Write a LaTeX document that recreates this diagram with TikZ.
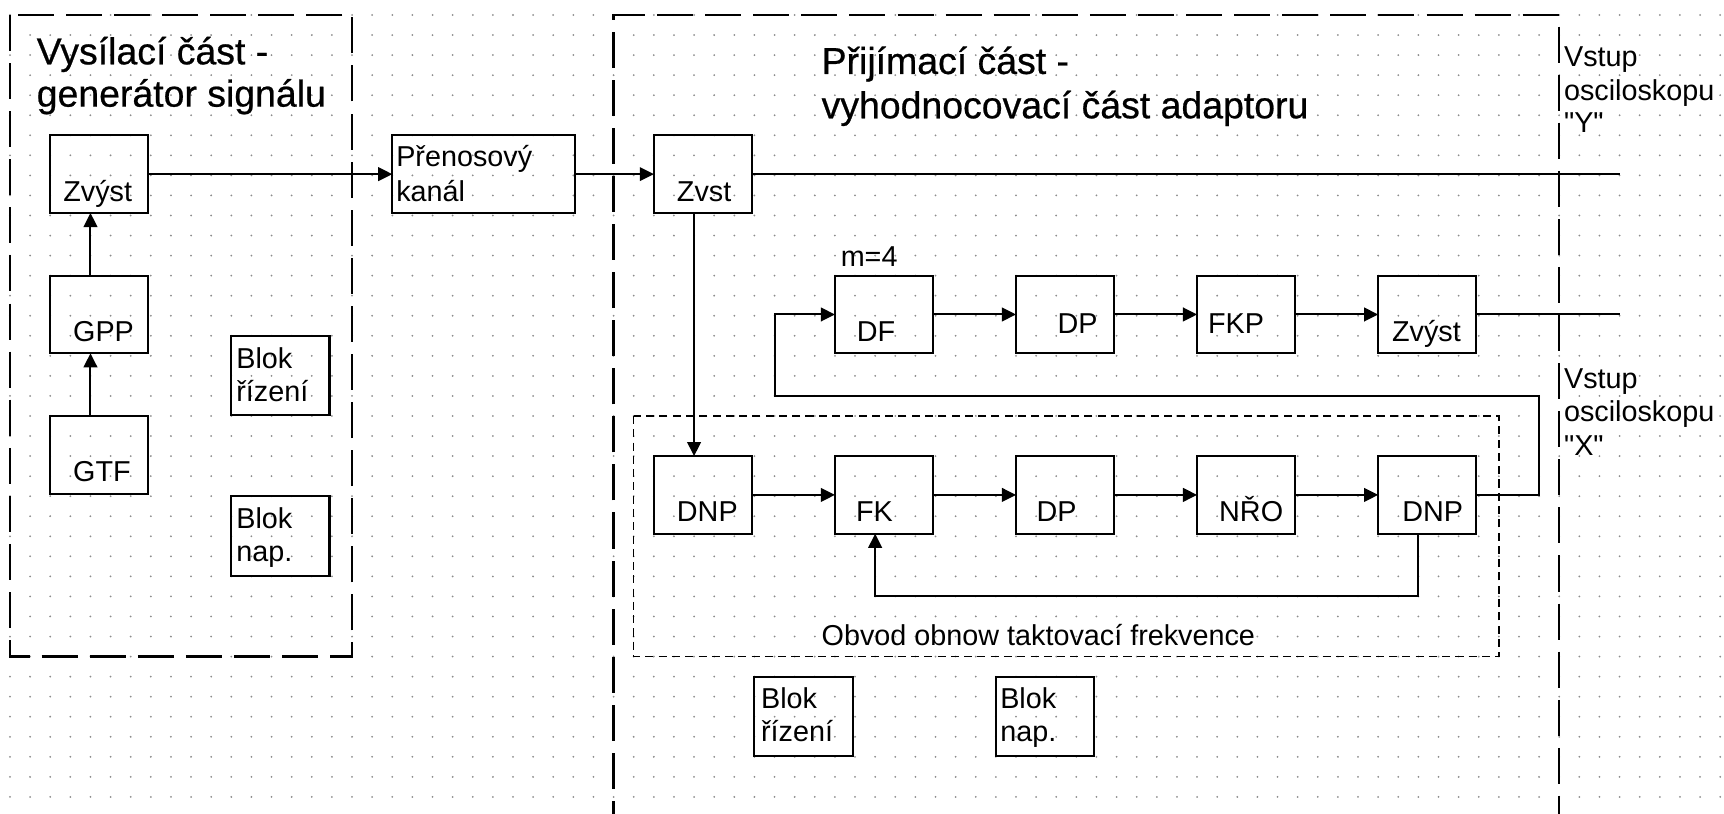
\documentclass[tikz,border=0pt]{standalone}
\usepackage{fontspec}
\setmainfont{Liberation Sans}
\newfontfamily\dgm{Liberation Sans}
\newfontfamily\dgmhead[FakeBold=0.6]{Liberation Sans}
\usetikzlibrary{arrows.meta}

\begin{document}
\begin{tikzpicture}[x=10pt, y=-9.965pt,
  blk/.style={draw, line width=1pt, rectangle, minimum width=48.8pt,
    minimum height=38.6pt, inner sep=0pt, outer sep=0pt, anchor=north west},
  ctrlblk/.style={blk, minimum height=39.6pt},
  lbl/.style={anchor=base west, inner sep=0pt, font=\dgm\fontsize{14.3pt}{16pt}\selectfont},
  ttl/.style={anchor=base west, inner sep=0pt, font=\dgmhead\fontsize{18.6pt}{22pt}\selectfont},
  wire/.style={line width=1pt},
  arr/.style={wire, -{Triangle[length=7pt,width=6.8pt]}},
  outer/.style={line width=1.1pt, dash pattern=on 17.9pt off 6pt},
  inner/.style={line width=0.75pt, dash pattern=on 4pt off 2.6pt},
  griddot/.style={fill=black!45}
]
\useasboundingbox (-0.497,-0.748) rectangle (85.19,39.85);
\clip (-0.497,-0.748) rectangle (85.19,39.85);

% dotted drawing grid
\foreach \i in {0,...,85}{
  \foreach \j in {0,...,39}{
    \fill[griddot] (\i,\j) circle[radius=0.5pt];
  }
}

% section frames
\draw[outer] (0,0) rectangle (17,32);
\draw[outer] (30,41) -- (30,0) -- (77,0) -- (77,41);
\draw[inner] (31,20) rectangle (74,32);

% section titles
\node[ttl] (t1a) at (1.31,2.46) {Vysílací část -};
\node[ttl] (t1b) at (1.31,4.57) {generátor signálu};
\node[ttl] (t2a) at (40.32,2.94) {Přijímací část -};
\node[ttl] (t2b) at (40.32,5.15) {vyhodnocovací část adaptoru};

% transmitter blocks
\node[blk] (zvA) at (2,6) {};
\node[lbl] (zvAt) at (2.63,9.31) {Zvýst};
\node[blk] (gpp) at (2,13) {};
\node[lbl] (gppt) at (3.12,16.29) {GPP};
\node[blk] (gtf) at (2,20) {};
\node[lbl] (gtft) at (3.12,23.28) {GTF};
\node[ctrlblk] (rizA) at (11,16) {};
\node[lbl] (rizAt1) at (11.23,17.62) {Blok};
\node[lbl] (rizAt2) at (11.23,19.29) {řízení};
\node[ctrlblk] (napA) at (11,24) {};
\node[lbl] (napAt1) at (11.23,25.6) {Blok};
\node[lbl] (napAt2) at (11.23,27.27) {nap.};

% channel
\node[blk, minimum width=90.8pt] (kanal) at (19,6) {};
\node[lbl] (kanalt1) at (19.18,7.57) {Přenosový};
\node[lbl] (kanalt2) at (19.18,9.31) {kanál};

% receiver blocks
\node[blk] (zvB) at (32,6) {};
\node[lbl] (zvBt) at (33.13,9.31) {Zvst};

\node[lbl] (mlab) at (41.27,12.55) {m=4};
\node[blk] (df) at (41,13) {};
\node[lbl] (dft) at (42.07,16.29) {DF};
\node[blk] (dpA) at (50,13) {};
\node[lbl] (dpAt) at (52.05,15.88) {DP};
\node[blk] (fkp) at (59,13) {};
\node[lbl] (fkpt) at (59.53,15.88) {FKP};
\node[blk] (zvC) at (68,13) {};
\node[lbl] (zvCt) at (68.67,16.29) {Zvýst};

\node[blk] (dnpA) at (32,22) {};
\node[lbl] (dnpAt) at (33.13,25.27) {DNP};
\node[blk] (fk) at (41,22) {};
\node[lbl] (fkt) at (42.03,25.27) {FK};
\node[blk] (dpB) at (50,22) {};
\node[lbl] (dpBt) at (51.0,25.27) {DP};
\node[blk] (nro) at (59,22) {};
\node[lbl] (nrot) at (60.08,25.27) {NŘO};
\node[blk] (dnpB) at (68,22) {};
\node[lbl] (dnpBt) at (69.18,25.27) {DNP};

\node[lbl] (obvod) at (40.32,31.45) {Obvod obnow taktovací frekvence};

\node[ctrlblk] (rizB) at (37,33) {};
\node[lbl] (rizBt1) at (37.31,34.58) {Blok};
\node[lbl] (rizBt2) at (37.31,36.24) {řízení};
\node[ctrlblk] (napB) at (49,33) {};
\node[lbl] (napBt1) at (49.2,34.58) {Blok};
\node[lbl] (napBt2) at (49.2,36.24) {nap.};

% oscilloscope inputs
\node[lbl] (yIn1) at (77.22,2.58) {Vstup};
\node[lbl] (yIn2) at (77.22,4.24) {osciloskopu};
\node[lbl] (yIn3) at (77.22,5.88) {"Y"};
\node[lbl] (xIn1) at (77.22,18.62) {Vstup};
\node[lbl] (xIn2) at (77.22,20.28) {osciloskopu};
\node[lbl] (xIn3) at (77.22,21.95) {"X"};

% routing coordinates
\coordinate (c4) at (4,0);
\coordinate (c34) at (34,0);
\coordinate (outEnd) at (80,0);
\coordinate (fbR) at (76,19);
\coordinate (fbL) at (38,19);
\coordinate (fb2R) at (70,29);
\coordinate (fb2L) at (43,29);

% transmitter chain
\draw[arr] (gtf.north -| c4) -- (gpp.south -| c4);
\draw[arr] (gpp.north -| c4) -- (zvA.south -| c4);
\draw[arr] (zvA.east) -- (kanal.west);
\draw[arr] (kanal.east) -- (zvB.west);

% receiver: signal output and branch to clock recovery
\draw[wire] (zvB.east) -- (zvB.east -| outEnd);
\draw[arr] (zvB.south -| c34) -- (dnpA.north -| c34);

% upper chain
\draw[arr] (df.east) -- (dpA.west);
\draw[arr] (dpA.east) -- (fkp.west);
\draw[arr] (fkp.east) -- (zvC.west);
\draw[wire] (zvC.east) -- (zvC.east -| outEnd);

% clock recovery chain
\draw[arr] (dnpA.east) -- (fk.west);
\draw[arr] (fk.east) -- (dpB.west);
\draw[arr] (dpB.east) -- (nro.west);
\draw[arr] (nro.east) -- (dnpB.west);

% feedback paths
\draw[arr] (dnpB.east) -| (fbR) -- (fbL) |- (df.west);
\draw[arr] (dnpB.south -| fb2R) -- (fb2R) -- (fb2L) -- (fk.south -| fb2L);
\end{tikzpicture}
\end{document}
